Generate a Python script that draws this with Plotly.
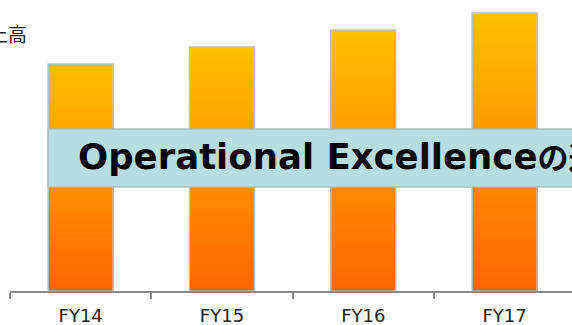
import plotly.graph_objects as go

categories = ["FY14", "FY15", "FY16", "FY17"]
sales = [227, 244, 261, 278]
y_label = "売上高"
banner_latin = "Operational Excellence"
banner_jp = "の追求"

TOP = (255, 192, 0)
BOT = (255, 102, 0)
N = 60

fig = go.Figure()
for k in range(N):
    t = k / (N - 1)
    c = tuple(round(TOP[i] + (BOT[i] - TOP[i]) * t) for i in range(3))
    col = "rgb(%d,%d,%d)" % c
    fig.add_trace(go.Bar(
        x=categories,
        y=[v * (N - k) / N for v in sales],
        width=0.46,
        marker=dict(color=col, line=dict(width=0)),
        hoverinfo="skip", showlegend=False,
    ))
# outline
fig.add_trace(go.Bar(
    x=categories, y=sales, width=0.46,
    marker=dict(color="rgba(0,0,0,0)", line=dict(color="#C0C0C0", width=1.5)),
    hoverinfo="skip", showlegend=False,
))

fig.add_shape(type="rect", xref="x", yref="y",
              x0=-0.23, x1=4.2, y0=104, y1=162,
              fillcolor="#B8DDE1", line=dict(color="#A9BFC2", width=1.5),
              layer="above")

fig.add_annotation(text=banner_latin + "<span style='font-size:31px'>" + banner_jp + "</span>",
                   xref="paper", yref="paper",
                   x=(76 - 10) / 562, y=(291 - 156) / 291,
                   xanchor="left", yanchor="middle", showarrow=False,
                   font=dict(family="DejaVu Sans, Noto Sans CJK JP", size=35.5,
                             color="#000000", weight="bold"))

fig.add_annotation(text=y_label, xref="paper", yref="paper",
                   x=(29 - 10) / 562, y=(291 - 33) / 291,
                   xanchor="right", yanchor="middle", showarrow=False,
                   font=dict(family="Noto Sans CJK JP", size=19, color="#222222"))

fig.update_layout(
    width=572, height=325,
    margin=dict(l=10, r=0, t=0, b=34),
    barmode="overlay",
    plot_bgcolor="white", paper_bgcolor="white",
    xaxis=dict(type="category", range=[-0.5, 3.477], automargin=False,
               showline=True, linecolor="#898989", linewidth=2,
               ticks="outside", tickson="boundaries", ticklen=6,
               tickcolor="#898989", tickwidth=1.5,
               ticklabelstandoff=7,
               showgrid=False, zeroline=False,
               tickfont=dict(family="DejaVu Sans", size=18, color="#222222")),
    yaxis=dict(visible=False, range=[0, 291], showgrid=False, zeroline=False,
               automargin=False),
)

fig.write_html("out.html")
